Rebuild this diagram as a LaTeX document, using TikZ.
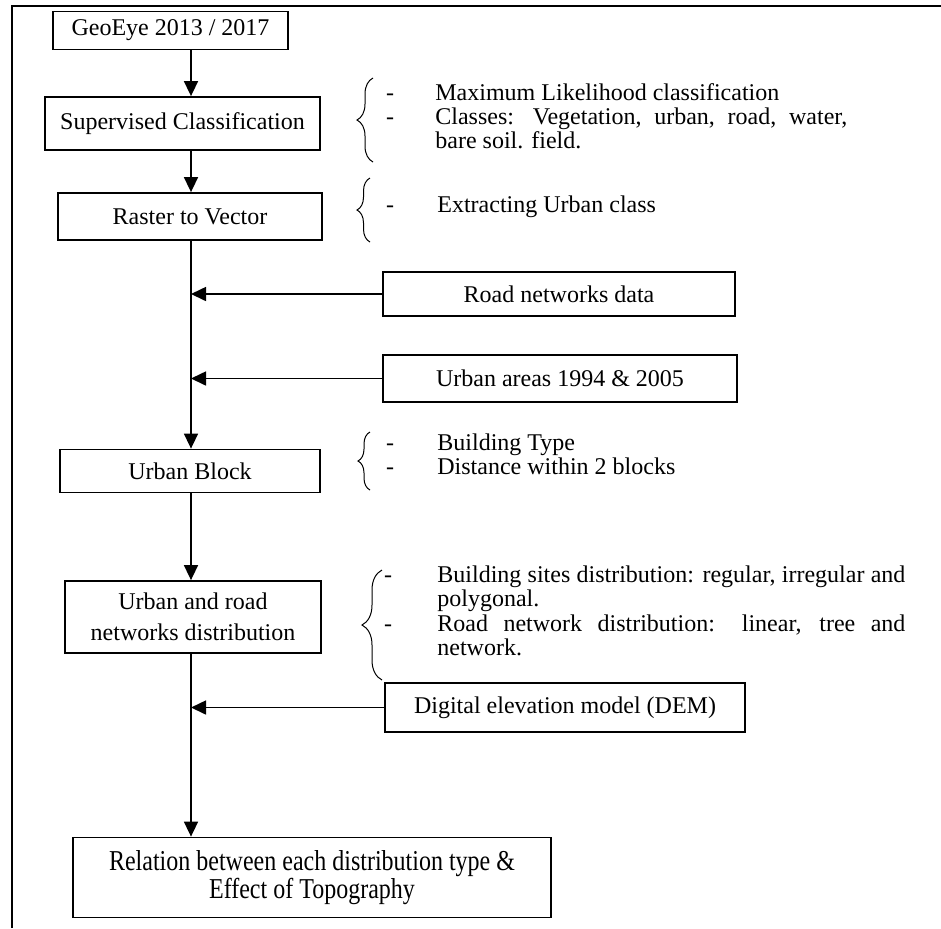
\documentclass[tikz,border=0pt]{standalone}
\usepackage{fontspec}
\setmainfont{Liberation Serif}
\usetikzlibrary{arrows.meta,decorations.pathreplacing}

\newcommand\nohyph{\hyphenpenalty=10000\relax\exhyphenpenalty=10000\relax}

\tikzset{
  stage/.style={draw, line width=0.9pt, inner sep=0pt, align=center,
    font=\fontsize{12}{13.5}\selectfont},
  feed/.style={-{Triangle[length=7.5pt,width=7pt]}, line width=0.8pt},
  curly/.style={decorate, decoration={brace, amplitude=#1}, line width=0.5pt},
  hyph/.style={inner sep=0pt, anchor=base, font=\fontsize{12}{12}\selectfont},
  note/.style={inner sep=0pt, anchor=base west, text width=#1, align=justify,
    font=\fontsize{12}{12}\selectfont\nohyph},
}

\begin{document}
\begin{tikzpicture}[x=0.5pt, y=-0.5pt]
  \useasboundingbox (0,0) rectangle (941,928);
  \draw[line width=1pt] (12,928) -- (12,6) -- (941,6);

  \coordinate (axis) at (191,0);

  % main column
  \node[stage, minimum width=117.5pt, minimum height=19pt] (geo) at (170.5,30.5) {GeoEye 2013 / 2017};
  \node[stage, minimum width=137.5pt, minimum height=26.5pt] (sup) at (182.5,123.5) {Supervised Classification};
  \node[stage, minimum width=132pt, minimum height=23.5pt] (ras) at (190,216.5) {Raster to Vector};
  \node[stage, minimum width=130pt, minimum height=21.5pt] (blk) at (190,471) {Urban Block};
  \node[stage, minimum width=128pt, minimum height=36pt,
    font=\fontsize{12}{15.5}\selectfont] (dist) at (193,617) {Urban and road\\networks distribution};
  \node[stage, minimum width=239pt, minimum height=40pt, font=\fontsize{12}{14}\selectfont] (rel) at (312,877.5)
    {\scalebox{1}[1.2]{Relation between each distribution type \&}\\\scalebox{1}[1.2]{Effect of Topography}};

  % inputs
  \node[stage, minimum width=176pt, minimum height=22pt] (road) at (559,294) {Road networks data};
  \node[stage, minimum width=177pt, minimum height=23.5pt] (areas) at (560,378.5) {Urban areas 1994 \& 2005};
  \node[stage, minimum width=180pt, minimum height=24.5pt] (dem) at (565,707.5) {Digital elevation model (DEM)};

  % connectors
  \draw[feed] (geo.south -| axis) -- (sup.north -| axis);
  \draw[feed] (sup.south -| axis) -- (ras.north -| axis);
  \draw[feed] (ras.south -| axis) -- (blk.north -| axis);
  \draw[feed] (blk.south -| axis) -- (dist.north -| axis);
  \draw[feed] (dist.south -| axis) -- (rel.north -| axis);
  \draw[feed] (road.west) -- (road.west -| axis);
  \draw[feed] (areas.west) -- (areas.west -| axis);
  \draw[feed] (dem.west) -- (dem.west -| axis);

  % notes
  \draw[curly=8pt] (373,162) -- (373,78);
  \draw[curly=6.5pt] (370,242) -- (370,178);
  \draw[curly=6pt] (370,490) -- (370,432);
  \draw[curly=10pt] (382,680) -- (382,570);

  \foreach \y in {100,124,212,450,474} {
    \node[hyph] (hy\y) at (390,\y) {-};
  }
  \foreach \y in {582,631} {
    \node[hyph] (hy\y) at (388,\y) {-};
  }

  \node[note=206pt] (mlc) at (435,100) {Maximum Likelihood classification};
  \node[note=206pt] (classes) at (435,124) {Classes: Vegetation, urban, road, water, bare soil. field.};
  \node[note=206pt] (extract) at (437,212) {Extracting Urban class};
  \node[note=206pt] (btype) at (437,450) {Building Type};
  \node[note=206pt] (bdist) at (437,474) {Distance within 2 blocks};
  \node[note=234pt] (sites) at (437,582) {Building sites distribution: regular, irregular and polygonal.};
  \node[note=234pt] (roadnet) at (437,631) {Road network distribution: linear, tree and network.};
\end{tikzpicture}
\end{document}
